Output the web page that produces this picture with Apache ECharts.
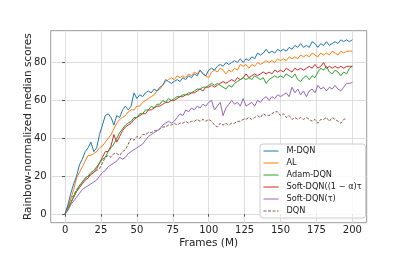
<!DOCTYPE html>
<html>
<head>
<meta charset="utf-8">
<script src="https://cdn.jsdelivr.net/npm/echarts@6/dist/echarts.min.js"></script>
<style>
html,body{margin:0;padding:0;background:#fff;}
#c{width:407px;height:255px;}
</style>
</head>
<body>
<div id="c"></div>
<script>
const xTicks = [0, 25, 50, 75, 100, 125, 150, 175, 200];
const yTicks = [0, 20, 40, 60, 80];
const seriesNames = ['M-DQN', 'AL', 'Adam-DQN', 'Soft-DQN((1 \u2212 \u03b1)\u03c4', 'Soft-DQN(\u03c4)', 'DQN'];

const frames = [0,2,4,6,8,10,12,14,16,18,20,22,24,26,28,30,32,34,36,38,40,42,44,46,48,50,52,54,56,58,60,62,64,66,68,70,72,74,76,78,80,82,84,86,88,90,92,94,96,98,100,102,104,106,108,110,112,114,116,118,120,122,124,126,128,130,132,134,136,138,140,142,144,146,148,150,152,154,156,158,160,162,164,166,168,170,172,174,176,178,180,182,184,186,188,190,192,194,196,198,200];

const mdqn = [0,5,11,16,20,26,29,33,35,38,33,35,42,47,52,53,51,47,52,51,55,57,55,57,64,61,63,62,64,65,64,66,65,67,68,71,70,69,70,71,70,72,71,73,72,74,73,76,74,73,76,77,76,78,79,78,80,79,80,81,80,82,80,82,81,83,82,85,84,85,87,85,86,85,87,86,87,86,88,87,89,88,90,88,89,88,91,90,88,90,89,91,89,90,91,90,92,91,92,91,92];

const al = [0,4,8,13,19,22,25,28,31,31,32,33,35,36,38,40,42,45,48,50,51,52,54,55,55,57,57,59,60,61,62,63,65,66,68,70,71,72,71,73,72,73,72,74,73,75,74,76,74,73,72,75,76,75,77,76,74,76,75,77,76,79,78,79,77,79,78,80,79,80,81,80,81,80,82,81,82,81,83,82,83,82,84,83,84,83,85,84,83,85,84,85,84,86,85,84,86,85,86,86,86];

const adam = [0,3,6,9,12,15,17,19,20,22,23,25,27,29,30,33,35,37,40,43,45,47,48,49,51,51,53,53,55,55,57,56,58,58,60,59,61,60,61,62,62,63,63,64,64,65,66,66,67,67,68,69,68,69,68,67,66,68,67,69,70,71,72,71,72,71,73,72,71,72,69,71,72,73,72,73,72,74,73,72,74,71,70,72,73,71,73,72,75,77,76,78,75,74,76,75,73,75,74,77,78];

const softA = [0,3,6,9,12,14,16,18,19,21,22,24,27,30,33,33,36,42,38,41,44,46,47,48,50,51,52,53,53,55,55,56,57,57,58,59,59,60,60,61,62,62,63,63,64,64,65,66,65,67,67,68,67,68,69,70,69,70,71,70,72,71,72,74,72,73,74,73,74,75,74,75,74,76,75,76,75,77,76,75,77,76,77,76,77,78,77,79,77,78,80,77,78,77,78,77,78,77,78,78,78];

const softT = [0,2,5,7,9,11,13,14,15,16,17,18,20,22,23,25,26,27,28,30,29,30,32,33,34,35,36,37,39,41,42,43,44,45,47,48,49,48,49,51,53,52,55,54,56,55,57,56,58,57,59,60,55,57,59,52,56,58,60,58,59,57,61,57,58,59,57,60,59,61,62,60,62,61,63,62,63,64,62,67,64,66,63,65,62,65,66,64,68,66,67,65,67,66,68,66,65,67,69,69,69.5];

const dqn = [0,4,8,10,13,15,17,19,20,21,22,23,24,27,30,31,30,32,32,31,33,34,37,40,39,41,40,42,42,43,43,44,44,45,46,46,47,47,48,47,48,48,49,48,49,49,50,49,50,49,50,49,47,46,48,47,48,47,48,48,49,49,50,50,51,50,51,52,51,53,52,52,53,54,54,52,53,51,52,50,51,50,51,50,51,50,49,50,48,50,50,51,49,51,50,49,48,50,50.5];

const colors = ['#1f77b4', '#ff7f0e', '#2ca02c', '#d62728', '#9467bd', '#8c564b'];
const values = [mdqn, al, adam, softA, softT, dqn];

function pairs(v) {
  return v.map((y, i) => [frames[i], y]);
}

const series = values.map((v, k) => ({
  name: seriesNames[k],
  type: 'line',
  data: pairs(v),
  symbol: 'none',
  smooth: false,
  z: 10 - k,
  lineStyle: {
    color: colors[k],
    width: 1,
    type: k === 5 ? [3, 1.5] : 'solid'
  },
  itemStyle: { color: colors[k] }
}));

const chart = echarts.init(document.getElementById('c'), null, { renderer: 'canvas' });
const font = 'DejaVu Sans';
chart.setOption({
  animation: false,
  backgroundColor: '#ffffff',
  textStyle: { fontFamily: font },
  grid: {
    left: 50.7, right: 40.3, top: 30.7, bottom: 32.3,
    show: true, borderColor: '#9a9a9a', borderWidth: 1, backgroundColor: 'transparent'
  },
  xAxis: {
    type: 'value', min: -10, max: 210,
    name: 'Frames (M)', nameLocation: 'middle', nameGap: 15, nameMoveOverlap: false,
    nameTextStyle: { fontFamily: font, fontSize: 10.5, color: '#222' },
    axisLine: { show: false },
    axisTick: { show: true, customValues: xTicks, length: 2.5, lineStyle: { color: '#555' } },
    axisLabel: { customValues: xTicks, fontFamily: font, fontSize: 10, color: '#222', margin: 2.5 },
    splitLine: { show: true, lineStyle: { color: '#dedede', width: 1 } }
  },
  yAxis: {
    type: 'value', min: -4.5, max: 96.8,
    name: 'Rainbow-normalized median scores', nameLocation: 'middle', nameGap: 17, nameMoveOverlap: false,
    nameTextStyle: { fontFamily: font, fontSize: 10.5, color: '#222' },
    axisLine: { show: false },
    axisTick: { show: true, customValues: yTicks, length: 3, lineStyle: { color: '#555' } },
    axisLabel: { customValues: yTicks, fontFamily: font, fontSize: 10, color: '#222', margin: 4 },
    splitLine: { show: true, lineStyle: { color: '#dedede', width: 1 } }
  },
  legend: {
    orient: 'vertical',
    left: 260, top: 144,
    padding: [3, 4, 3, 3],
    itemWidth: 15, itemHeight: 8, itemGap: 4,
    itemStyle: { opacity: 0 },
    lineStyle: { width: 1 },
    backgroundColor: 'rgba(255,255,255,0.85)',
    borderColor: '#cccccc', borderWidth: 1, borderRadius: 3,
    textStyle: { fontFamily: font, fontSize: 8.2, color: '#222', padding: [0, 0, 0, 3] },
    data: seriesNames
  },
  series: series
});
</script>
</body>
</html>
